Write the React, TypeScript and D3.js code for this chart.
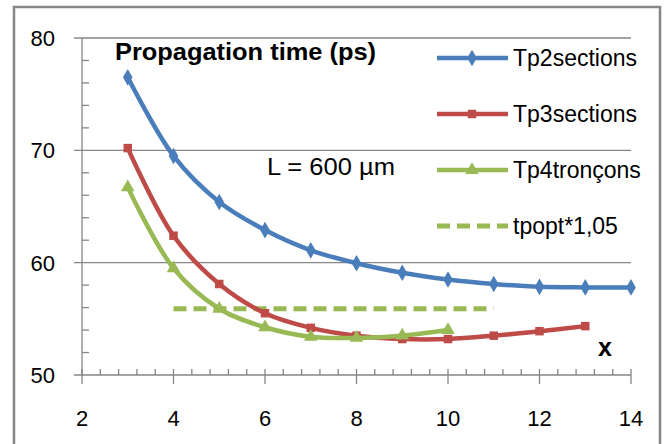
import { useEffect, useRef } from "react";
import * as d3 from "d3";

// values
const xTicks = [2, 4, 6, 8, 10, 12, 14];
const yTicks = [50, 60, 70, 80];

const tp2X = [3, 4, 5, 6, 7, 8, 9, 10, 11, 12, 13, 14];
const tp2 = [76.5, 69.5, 65.4, 62.9, 61.1, 59.95, 59.1, 58.5, 58.1, 57.85, 57.8, 57.8];

const tp3X = [3, 4, 5, 6, 7, 8, 9, 10, 11, 12, 13];
const tp3 = [70.2, 62.4, 58.1, 55.5, 54.2, 53.5, 53.2, 53.2, 53.5, 53.9, 54.35];

const tp4X = [3, 4, 5, 6, 7, 8, 9, 10];
const tp4 = [66.7, 59.5, 55.9, 54.25, 53.4, 53.3, 53.5, 54.0];

const tpoptX = [4, 11];
const tpopt = [55.9, 55.9];

const BLUE = "#4A7EBB";
const RED = "#BE4B48";
const GREEN = "#98B954";
const GRID = "#868686";
const FONT = "'Liberation Sans', Arial, sans-serif";

export default function App() {
  const svgRef = useRef<SVGSVGElement>(null);

  useEffect(() => {
    if (!svgRef.current) return;
    const svg = d3.select(svgRef.current);
    svg.selectAll("*").remove();

    const x = d3.scaleLinear().domain([2, 14]).range([82, 631]);
    const y = d3.scaleLinear().domain([50, 80]).range([375, 38]);

    svg.append("rect").attr("width", 666).attr("height", 444).attr("fill", "#fff");

    // chart frame
    svg
      .append("rect")
      .attr("x", 14)
      .attr("y", 7)
      .attr("width", 646)
      .attr("height", 460)
      .attr("fill", "none")
      .attr("stroke", GRID)
      .attr("stroke-width", 2.5);

    const axes = svg.append("g").attr("stroke", GRID).attr("stroke-width", 1.3);

    // horizontal gridlines
    yTicks.forEach((t) => {
      axes
        .append("line")
        .attr("x1", 74)
        .attr("x2", x(14))
        .attr("y1", y(t))
        .attr("y2", y(t));
    });

    // y axis + minor ticks
    axes.append("line").attr("x1", x(2)).attr("x2", x(2)).attr("y1", y(80)).attr("y2", y(50));
    d3.range(52, 80, 2)
      .filter((v) => v % 10 !== 0)
      .forEach((v) => {
        axes
          .append("line")
          .attr("x1", x(2))
          .attr("x2", x(2) + 7)
          .attr("y1", y(v))
          .attr("y2", y(v));
      });

    // x axis ticks
    xTicks.forEach((t) => {
      axes
        .append("line")
        .attr("x1", x(t))
        .attr("x2", x(t))
        .attr("y1", y(50) - 6)
        .attr("y2", y(50) + 9);
    });
    d3.range(2, 14, 0.4).forEach((v) => {
      if (Math.abs(v / 2 - Math.round(v / 2)) < 0.01) return;
      axes
        .append("line")
        .attr("x1", x(v))
        .attr("x2", x(v))
        .attr("y1", y(50) - 6)
        .attr("y2", y(50));
    });

    // tick labels
    yTicks.forEach((t) => {
      svg
        .append("text")
        .attr("x", 55)
        .attr("y", y(t) + 8)
        .attr("text-anchor", "end")
        .attr("font-family", FONT)
        .attr("font-size", 22)
        .attr("fill", "#000")
        .text(t);
    });
    xTicks.forEach((t) => {
      svg
        .append("text")
        .attr("x", x(t))
        .attr("y", 426)
        .attr("text-anchor", "middle")
        .attr("font-family", FONT)
        .attr("font-size", 22)
        .attr("fill", "#000")
        .text(t);
    });

    // series
    const line = d3
      .line<[number, number]>()
      .x((d) => x(d[0]))
      .y((d) => y(d[1]))
      .curve(d3.curveCatmullRom);

    const series = [
      { xs: tp2X, ys: tp2, color: BLUE, marker: d3.symbolDiamond, size: 80 },
      { xs: tp3X, ys: tp3, color: RED, marker: d3.symbolSquare, size: 72 },
      { xs: tp4X, ys: tp4, color: GREEN, marker: d3.symbolTriangle, size: 80 },
    ];

    // dashed reference line
    svg
      .append("path")
      .attr("d", line(tpoptX.map((v, i) => [v, tpopt[i]] as [number, number])))
      .attr("fill", "none")
      .attr("stroke", GREEN)
      .attr("stroke-width", 5)
      .attr("stroke-dasharray", "13 7");

    series.forEach((s) => {
      const pts = s.xs.map((v, i) => [v, s.ys[i]] as [number, number]);
      svg
        .append("path")
        .attr("d", line(pts))
        .attr("fill", "none")
        .attr("stroke", s.color)
        .attr("stroke-width", 4.5);
      pts.forEach((p) => {
        svg
          .append("path")
          .attr("d", d3.symbol().type(s.marker).size(s.size)())
          .attr("transform", `translate(${x(p[0])},${y(p[1])})`)
          .attr("fill", s.color);
      });
    });

    // annotations
    svg
      .append("text")
      .attr("x", 115)
      .attr("y", 60)
      .attr("font-family", FONT)
      .attr("font-weight", "bold")
      .attr("font-size", 23)
      .attr("textLength", 261)
      .attr("lengthAdjust", "spacingAndGlyphs")
      .text("Propagation time (ps)");

    svg
      .append("text")
      .attr("x", 267)
      .attr("y", 175)
      .attr("font-family", FONT)
      .attr("font-size", 23)
      .attr("textLength", 128)
      .attr("lengthAdjust", "spacingAndGlyphs")
      .text("L = 600 µm");

    svg
      .append("text")
      .attr("x", 598)
      .attr("y", 356)
      .attr("font-family", FONT)
      .attr("font-weight", "bold")
      .attr("font-size", 25)
      .text("x");

    // legend
    const legendItems = [
      { label: "Tp2sections", color: BLUE, marker: d3.symbolDiamond, size: 80, dash: false },
      { label: "Tp3sections", color: RED, marker: d3.symbolSquare, size: 72, dash: false },
      { label: "Tp4tronçons", color: GREEN, marker: d3.symbolTriangle, size: 80, dash: false },
      { label: "tpopt*1,05", color: GREEN, marker: null, size: 0, dash: true },
    ];
    legendItems.forEach((item, i) => {
      const cy = 58 + i * 56;
      const g = svg.append("g").attr("transform", `translate(0,${cy})`);
      g.append("line")
        .attr("x1", 437)
        .attr("x2", 508)
        .attr("stroke", item.color)
        .attr("stroke-width", item.dash ? 5 : 4.5)
        .attr("stroke-dasharray", item.dash ? "13 7" : null);
      if (item.marker) {
        g.append("path")
          .attr("d", d3.symbol().type(item.marker).size(item.size)())
          .attr("transform", "translate(472,0)")
          .attr("fill", item.color);
      }
      g.append("text")
        .attr("x", 513)
        .attr("y", 8)
        .attr("font-family", FONT)
        .attr("font-size", 23)
        .attr("fill", "#000")
        .text(item.label);
    });
  }, []);

  return (
    <svg
      ref={svgRef}
      width={666}
      height={444}
      style={{ position: "absolute", left: 0, top: 0 }}
    />
  );
}
